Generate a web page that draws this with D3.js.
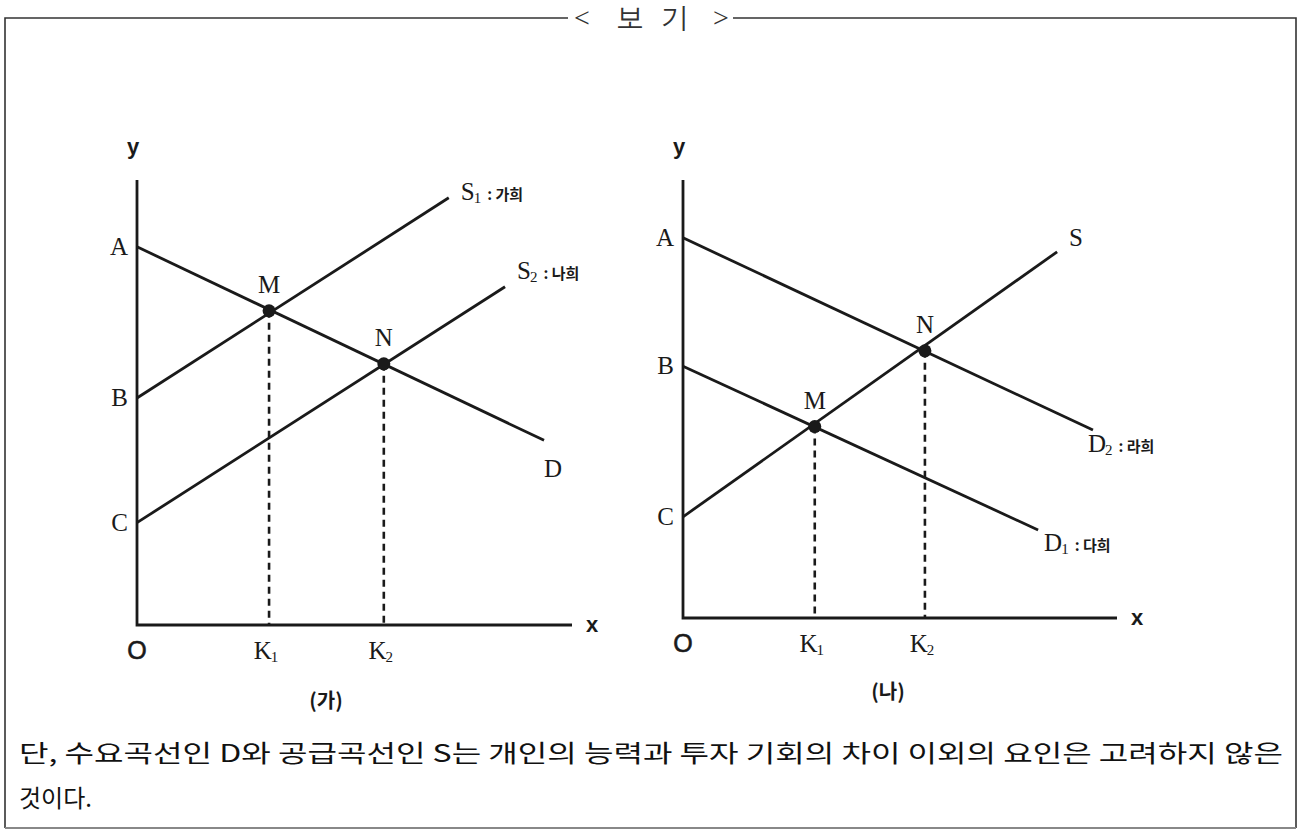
<!DOCTYPE html>
<html><head><meta charset="utf-8">
<script src="https://cdn.jsdelivr.net/npm/d3@7"></script>
<style>
html,body{margin:0;padding:0;background:#fff;}
svg{display:block;}
.serif{font-family:"Liberation Serif","DejaVu Serif",serif;}
.sans{font-family:"Liberation Sans",Arial,sans-serif;}
.kr{font-family:"Noto Sans CJK KR",sans-serif;}
</style></head>
<body>
<svg id="c" width="1300" height="831"></svg>
<script>
// ---- data (x, y in abstract units 0..10) ----
// Panel (가)
const leftDemandD   = [[0, 8.5], [9.4, 4.15]];
const leftSupplyS1  = [[0, 5.1], [7.2, 9.6]];
const leftSupplyS2  = [[0, 2.3], [8.5, 7.6]];
const leftPoints    = [{name:"M", x:3.05, y:7.06, k:"K1"}, {name:"N", x:5.7, y:5.87, k:"K2"}];
const leftIntercepts = [{name:"A", y:8.5}, {name:"B", y:5.1}, {name:"C", y:2.3}];
// Panel (나)
const rightDemandD2 = [[0, 8.68], [9.49, 4.29]];
const rightDemandD1 = [[0, 5.75], [8.22, 2.01]];
const rightSupplyS  = [[0, 2.31], [8.66, 8.36]];
const rightPoints   = [{name:"M", x:3.05, y:4.37, k:"K1"}, {name:"N", x:5.6, y:6.1, k:"K2"}];
const rightIntercepts = [{name:"A", y:8.68}, {name:"B", y:5.75}, {name:"C", y:2.31}];

const titleText = ["<", "보", "기", ">"];
const noteLines = ["단, 수요곡선인 D와 공급곡선인 S는 개인의 능력과 투자 기회의 차이 이외의 요인은 고려하지 않은", "것이다."];

const svg = d3.select("#c");
const ink = "#1a1a1a";

// frame
svg.append("path")
  .attr("d", "M5,828 L5,18 L568,18 M733,18 L1296,18 L1296,828")
  .attr("fill","none").attr("stroke","#333").attr("stroke-width",1.6);
svg.append("line").attr("x1",5).attr("x2",1296).attr("y1",828).attr("y2",828)
  .attr("stroke","#888").attr("stroke-width",2);
const titleX = [582, 630, 675, 721];
svg.selectAll("text.title").data(titleText).join("text")
  .attr("class","title serif").attr("x",(d,i)=>titleX[i]).attr("y",27)
  .attr("text-anchor","middle").attr("font-size",28)
  .attr("fill","#333").text(d=>d);

function panel(opt){
  const x = d3.scaleLinear().domain([0,10]).range([opt.x0, opt.x1]);
  const y = d3.scaleLinear().domain([0,10]).range([opt.y0, opt.y1]);
  const g = svg.append("g");
  const line = d3.line().x(d=>x(d[0])).y(d=>y(d[1]));
  // axes
  g.append("path").attr("d", `M${x(0)},${opt.yTop}L${x(0)},${y(0)}L${opt.xEnd},${y(0)}`)
    .attr("fill","none").attr("stroke",ink).attr("stroke-width",2.8);
  g.append("text").attr("class","sans").attr("x",x(0)-4).attr("y",opt.yTop-26)
    .attr("text-anchor","middle").attr("font-weight","bold").attr("font-size",22).attr("fill",ink).text("y");
  g.append("text").attr("class","sans").attr("x",opt.xEnd+20).attr("y",y(0)+7)
    .attr("text-anchor","middle").attr("font-weight","bold").attr("font-size",22).attr("fill",ink).text("x");
  g.append("text").attr("class","sans").attr("x",x(0)).attr("y",y(0)+34)
    .attr("text-anchor","middle").attr("font-size",25).attr("stroke",ink).attr("stroke-width",0.6).attr("fill",ink).text("O");
  // dashed drops
  opt.points.forEach(p=>{
    g.append("line").attr("x1",x(p.x)).attr("x2",x(p.x)).attr("y1",y(p.y)).attr("y2",y(0))
      .attr("stroke",ink).attr("stroke-width",2.6).attr("stroke-dasharray","7,5");
  });
  // curves
  opt.curves.forEach(c=>{
    g.append("path").attr("d", line(c.data)).attr("fill","none").attr("stroke",ink).attr("stroke-width",2.8);
    const end = c.data[c.data.length-1];
    const t = g.append("text").attr("class","serif").attr("x",x(end[0])+c.dx).attr("y",y(end[1])+c.dy)
      .attr("font-size",25).attr("fill",ink);
    t.append("tspan").text(c.label);
    if (c.sub) t.append("tspan").attr("font-size",15).attr("dy",3).attr("dx",-1).text(c.sub);
    if (c.who) {
      t.append("tspan").attr("class","kr").attr("font-size",15).attr("font-weight","bold").attr("dy",-3).attr("dx",6).text(": " + c.who);
    }
  });
  // points
  opt.points.forEach(p=>{
    g.append("circle").attr("cx",x(p.x)).attr("cy",y(p.y)).attr("r",6.5).attr("fill",ink);
    g.append("text").attr("class","serif").attr("x",x(p.x)).attr("y",y(p.y)-18)
      .attr("text-anchor","middle").attr("font-size",25).attr("fill",ink).text(p.name);
    const kt = g.append("text").attr("class","serif").attr("x",x(p.x)-3).attr("y",y(0)+34)
      .attr("text-anchor","middle").attr("font-size",25).attr("fill",ink);
    kt.append("tspan").text("K");
    kt.append("tspan").attr("font-size",15).attr("dy",3).attr("dx",-1).text(p.k.slice(1));
  });
  // intercept labels
  opt.intercepts.forEach(a=>{
    g.append("text").attr("class","serif").attr("x",x(0)-9).attr("y",y(a.y)+8)
      .attr("text-anchor","end").attr("font-size",25).attr("fill",ink).text(a.name);
  });
  // panel caption
  g.append("text").attr("class","kr").attr("x",opt.capX).attr("y",opt.capY)
    .attr("text-anchor","middle").attr("font-weight","bold").attr("font-size",20).attr("fill",ink).text(opt.caption);
}

panel({x0:137, x1:570, y0:625, y1:180, yTop:180, xEnd:572,
  points:leftPoints, intercepts:leftIntercepts, caption:"(가)", capX:326, capY:708,
  curves:[
    {data:leftDemandD, label:"D", dx:0, dy:37},
    {data:leftSupplyS1, label:"S", sub:"1", who:"가희", dx:12, dy:2},
    {data:leftSupplyS2, label:"S", sub:"2", who:"나희", dx:12, dy:-8}
  ]});

panel({x0:683, x1:1115, y0:618, y1:180, yTop:180, xEnd:1117,
  points:rightPoints, intercepts:rightIntercepts, caption:"(나)", capX:888, capY:699,
  curves:[
    {data:rightDemandD2, label:"D", sub:"2", who:"라희", dx:-5, dy:22},
    {data:rightDemandD1, label:"D", sub:"1", who:"다희", dx:6, dy:21},
    {data:rightSupplyS, label:"S", dx:12, dy:-6}
  ]});

// note text
svg.selectAll("text.note").data(noteLines).join("text")
  .attr("class","note kr").attr("x",19).attr("y",(d,i)=>762+i*45)
  .attr("font-size",24).attr("font-weight",400).attr("fill","#111")
  .each(function(d,i){ if(i===0) d3.select(this).attr("textLength",1264).attr("lengthAdjust","spacingAndGlyphs"); })
  .text(d=>d);
</script>
</body></html>
